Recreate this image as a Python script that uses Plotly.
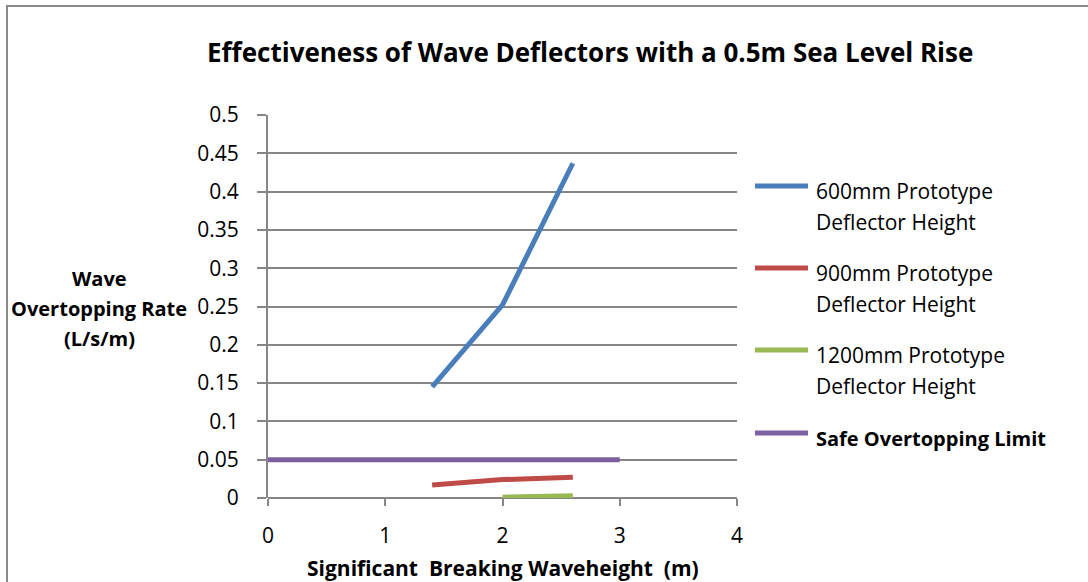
import plotly.graph_objects as go

# Data
x_600 = [1.4, 2.0, 2.6]
y_600 = [0.145, 0.252, 0.437]
x_900 = [1.4, 2.0, 2.6]
y_900 = [0.017, 0.024, 0.027]
x_1200 = [2.0, 2.6]
y_1200 = [0.001, 0.003]
x_safe = [0, 3]
y_safe = [0.05, 0.05]

names = ["600mm Prototype<br>Deflector Height",
         "900mm Prototype<br>Deflector Height",
         "1200mm Prototype<br>Deflector Height",
         "<b>Safe Overtopping Limit</b>"]
colors = ["#4a7ebb", "#be4b48", "#98b954", "#7d60a0"]

title_text = "Effectiveness of Wave Deflectors with a 0.5m Sea Level Rise"
x_title = "Significant  Breaking Waveheight  (m)"
y_title_lines = ["Wave", "Overtopping Rate", "(L/s/m)"]
x_ticks = [0, 1, 2, 3, 4]
y_ticks = [0, 0.05, 0.1, 0.15, 0.2, 0.25, 0.3, 0.35, 0.4, 0.45, 0.5]

FONT = "Open Sans"
W, H = 1088, 582
L, R, T, B = 268, 351, 115, 84
pw, ph = W - L - R, H - T - B

def px_to_paper_x(px):
    return (px - L) / pw

def px_to_paper_y(py):
    return (H - B - py) / ph

fig = go.Figure()
series = [(x_600, y_600), (x_900, y_900), (x_1200, y_1200), (x_safe, y_safe)]
for (xs, ys), n, c in zip(series, names, colors):
    fig.add_trace(go.Scatter(x=xs, y=ys, mode="lines", name=n,
                             line=dict(color=c, width=5), showlegend=False))

# manual legend
legend_line_y = [186, 268, 350, 433]
shapes = []
annotations = []
for i, (n, c) in enumerate(zip(names, colors)):
    ly = legend_line_y[i]
    shapes.append(dict(type="line", xref="paper", yref="paper",
                       x0=px_to_paper_x(755), x1=px_to_paper_x(808),
                       y0=px_to_paper_y(ly), y1=px_to_paper_y(ly),
                       line=dict(color=c, width=5)))
    bold = n.startswith("<b>")
    for j, part in enumerate(n.split("<br>")):
        annotations.append(dict(text=part, xref="paper", yref="paper",
                                x=px_to_paper_x(814), y=px_to_paper_y(ly + 5 + 31 * j),
                                xanchor="left", yanchor="middle", showarrow=False,
                                font=dict(family=FONT, size=20 if bold else 21, color="black")))

# outer chart border
shapes.append(dict(type="rect", xref="paper", yref="paper",
                   x0=px_to_paper_x(7), x1=px_to_paper_x(1100),
                   y0=px_to_paper_y(600), y1=px_to_paper_y(6),
                   line=dict(color="#8a8a8a", width=2), layer="below"))

# y axis title
for j, part in enumerate(y_title_lines):
    annotations.append(dict(text="<b>" + part + "</b>", xref="paper", yref="paper",
                            x=px_to_paper_x(99), y=px_to_paper_y(278 + 30 * j),
                            xanchor="center", yanchor="middle", showarrow=False,
                            font=dict(family=FONT, size=20, color="black")))
# x axis title
annotations.append(dict(text="<b>" + x_title + "</b>", xref="paper", yref="paper",
                        x=px_to_paper_x(503), y=px_to_paper_y(568),
                        xanchor="center", yanchor="middle", showarrow=False,
                        font=dict(family=FONT, size=21, color="black")))
# title
annotations.append(dict(text="<b>" + title_text + "</b>", xref="paper", yref="paper",
                        x=px_to_paper_x(590), y=px_to_paper_y(52),
                        xanchor="center", yanchor="middle", showarrow=False,
                        font=dict(family=FONT, size=26, color="black")))

fig.update_layout(
    width=W, height=H,
    margin=dict(l=L, r=R, t=T, b=B),
    paper_bgcolor="white", plot_bgcolor="white",
    shapes=shapes, annotations=annotations,
    xaxis=dict(range=[0, 4], tickvals=x_ticks, ticktext=[str(v) for v in x_ticks],
               showgrid=False, zeroline=False, showline=False,
               ticks="outside", ticklen=7, tickcolor="#868686", tickwidth=2,
               ticklabelstandoff=12,
               tickfont=dict(family=FONT, size=21, color="black"), fixedrange=True),
    yaxis=dict(range=[0, 0.5], tickvals=y_ticks, ticktext=[f"{v:g}" for v in y_ticks],
               showgrid=True, gridcolor="#868686", gridwidth=2,
               zeroline=True, zerolinecolor="#868686", zerolinewidth=2,
               showline=True, linecolor="#868686", linewidth=2,
               ticks="outside", ticklen=9, tickcolor="#868686", tickwidth=2,
               ticklabelstandoff=14,
               tickfont=dict(family=FONT, size=21, color="black"), fixedrange=True),
)
fig.write_html("out.html")
